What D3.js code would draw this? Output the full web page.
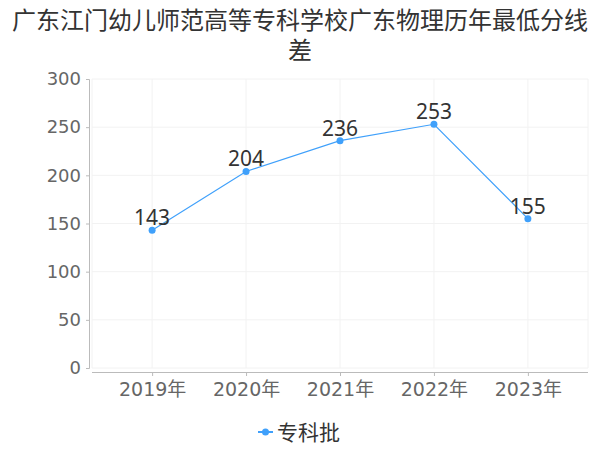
<!DOCTYPE html>
<html lang="zh">
<head>
    <meta charset="UTF-8">
    <title>广东江门幼儿师范高等专科学校</title>
    <script src="https://d3js.org/d3.v7.min.js"></script>
    <style>
        * { margin: 0; padding: 0; box-sizing: border-box; }
        body { background: #fff; font-family: "Noto Sans CJK SC", "DejaVu Sans", sans-serif; }
    </style>
</head>
<body>
    <div id="chart"></div>
    <script>
        const years = ["2019年", "2020年", "2021年", "2022年", "2023年"];
        const values = [143, 204, 236, 253, 155];
        const yTicks = [0, 50, 100, 150, 200, 250, 300];
        const seriesName = "专科批";
        const titleLines = ["广东江门幼儿师范高等专科学校广东物理历年最低分线", "差"];

        const W = 600, H = 450;
        const lineColor = "#3fa0fb";

        const svg = d3.select("#chart")
            .append("svg")
            .attr("width", W)
            .attr("height", H);

        // title
        svg.selectAll(".title")
            .data(titleLines)
            .join("text")
            .attr("x", W / 2)
            .attr("y", (d, i) => 29 + i * 30)
            .attr("text-anchor", "middle")
            .style("font-size", "24px")
            .style("fill", "#333")
            .text(d => d);

        const pLeft = 92, pRight = 588, pTop = 79, pBottom = 368;

        const x = d3.scalePoint()
            .domain(years)
            .range([pLeft, pRight])
            .padding(0.64);

        const y = d3.scaleLinear()
            .domain([0, 300])
            .range([pBottom, pTop]);

        // grid
        svg.append("g")
            .selectAll("line")
            .data(yTicks)
            .join("line")
            .attr("x1", pLeft).attr("x2", pRight)
            .attr("y1", d => y(d)).attr("y2", d => y(d))
            .attr("stroke", "#f2f2f2");

        const vx = [pLeft, ...years.map(d => x(d)), pRight];
        svg.append("g")
            .selectAll("line")
            .data(vx)
            .join("line")
            .attr("x1", d => d).attr("x2", d => d)
            .attr("y1", pTop).attr("y2", pBottom)
            .attr("stroke", "#f2f2f2");

        // y axis
        const yAxis = svg.append("g")
            .attr("transform", `translate(89,0)`)
            .call(d3.axisLeft(y).tickValues(yTicks).tickSize(3).tickPadding(5));
        yAxis.select(".domain").attr("stroke", "#bbb");
        yAxis.selectAll(".tick line").attr("stroke", "#bbb");
        yAxis.selectAll("text")
            .style("font-size", "18px")
            .style("fill", "#666")
            .style("font-family", "'DejaVu Sans', sans-serif");

        // x axis
        const xAxis = svg.append("g")
            .attr("transform", `translate(0,372)`)
            .call(d3.axisBottom(x).tickSizeOuter(0).tickSize(4).tickPadding(7));
        xAxis.select(".domain").attr("stroke", "#bbb").attr("d", `M${pLeft},0.5H${pRight}`);
        xAxis.selectAll(".tick line").attr("stroke", "#bbb");
        xAxis.selectAll("text")
            .style("font-size", "19px")
            .style("fill", "#666")
            .style("font-family", "'DejaVu Sans', 'Noto Sans CJK SC', sans-serif");

        const pts = years.map((d, i) => ({ year: d, value: values[i] }));

        const line = d3.line()
            .x(d => x(d.year))
            .y(d => y(d.value));

        svg.append("path")
            .datum(pts)
            .attr("fill", "none")
            .attr("stroke", lineColor)
            .attr("stroke-width", 1.2)
            .attr("d", line);

        svg.selectAll(".dot")
            .data(pts)
            .join("circle")
            .attr("cx", d => x(d.year))
            .attr("cy", d => y(d.value))
            .attr("r", 3.5)
            .attr("fill", lineColor);

        svg.selectAll(".lbl")
            .data(pts)
            .join("text")
            .attr("x", d => x(d.year))
            .attr("y", d => y(d.value) - 5)
            .attr("text-anchor", "middle")
            .style("font-size", "21px")
            .style("fill", "#333")
            .style("font-family", "'Noto Sans', sans-serif")
            .text(d => d.value);

        // legend
        const lg = svg.append("g").attr("transform", "translate(258,432)");
        lg.append("line")
            .attr("x1", 0).attr("x2", 15)
            .attr("y1", 0).attr("y2", 0)
            .attr("stroke", lineColor).attr("stroke-width", 2);
        lg.append("circle").attr("cx", 7.5).attr("cy", 0).attr("r", 3.5).attr("fill", lineColor);
        lg.append("text")
            .attr("x", 19)
            .attr("y", 8)
            .style("font-size", "21px")
            .style("fill", "#333")
            .text(seriesName);
    </script>
</body>
</html>
